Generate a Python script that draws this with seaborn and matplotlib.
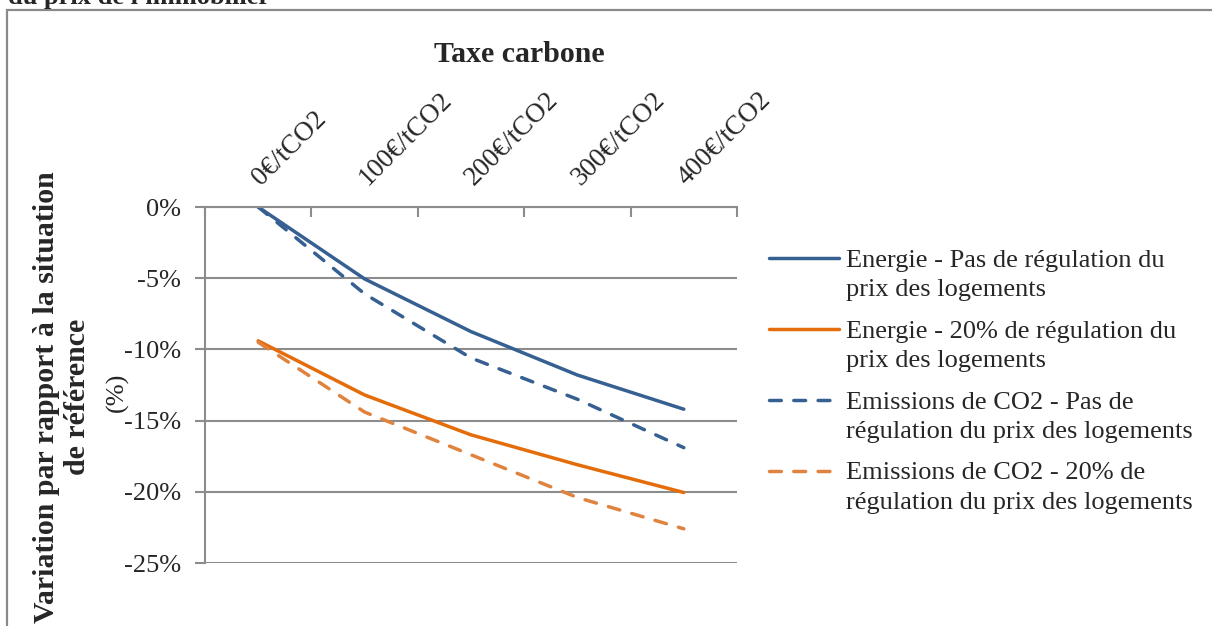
import numpy as np
import matplotlib.pyplot as plt
import seaborn as sns
from matplotlib.legend_handler import HandlerLine2D
from matplotlib.lines import Line2D
from matplotlib.patches import Rectangle
from matplotlib.ticker import FuncFormatter, FixedLocator
from matplotlib.transforms import ScaledTranslation

# data (% change vs. reference)
taxes = ["0€/tCO2", "100€/tCO2", "200€/tCO2", "300€/tCO2", "400€/tCO2"]
energie_sans_regul = [0.0, -5.05, -8.75, -11.8, -14.2]
energie_20_regul = [-9.4, -13.2, -16.0, -18.1, -20.05]
co2_sans_regul = [0.0, -6.1, -10.6, -13.5, -16.9]
co2_20_regul = [-9.5, -14.4, -17.4, -20.4, -22.6]

noms = [
    "Energie - Pas de régulation du\nprix des logements",
    "Energie - 20% de régulation du\nprix des logements",
    "Emissions de CO2 - Pas de\nrégulation du prix des logements",
    "Emissions de CO2 - 20% de\nrégulation du prix des logements",
]

BLEU = "#376092"
ORANGE = "#E46C0A"
ORANGE_CLAIR = "#E0833F"
GRIS = "#8C8C8C"


class TopLineHandler(HandlerLine2D):
    # put the legend line next to the first text line, like Excel does
    def create_artists(self, legend, orig_handle, xdescent, ydescent,
                       width, height, fontsize, trans):
        arts = super().create_artists(legend, orig_handle, xdescent, ydescent,
                                      width, height, fontsize, trans)
        for a in arts:
            a.set_ydata(np.asarray(a.get_ydata()) + 0.62 * fontsize)
        return arts


sns.set_style("white")
plt.rcParams["font.family"] = ["Liberation Serif", "DejaVu Serif"]

fig = plt.figure(figsize=(12.12, 6.26), dpi=100)
ax = fig.add_axes([205 / 1212, 1 - 563 / 626, 532 / 1212, 356 / 626])

x = np.arange(len(taxes))
series = [
    (energie_sans_regul, noms[0], BLEU, "-"),
    (energie_20_regul, noms[1], ORANGE, "-"),
    (co2_sans_regul, noms[2], BLEU, (0, (3.4, 3.6))),
    (co2_20_regul, noms[3], ORANGE_CLAIR, (0, (3.4, 3.6))),
]
for vals, nom, col, ls in series:
    sns.lineplot(x=x, y=vals, ax=ax, color=col, lw=2.5, ls=ls, label=nom,
                 solid_capstyle="round", dash_capstyle="round")

ax.set_xlim(-0.5, len(taxes) - 0.5)
ax.set_ylim(-25, 0)
ax.set_yticks([0, -5, -10, -15, -20, -25])
ax.yaxis.set_major_formatter(FuncFormatter(lambda v, _: f"{v:.0f}%"))
ax.yaxis.grid(True, color=GRIS, lw=1.5)
ax.set_xlabel("")
ax.set_ylabel("")

ax.xaxis.tick_top()
ax.set_xticks(x)
ax.set_xticklabels(taxes, rotation=45, ha="left", va="bottom",
                   rotation_mode="anchor", fontsize=19.5)
ax.xaxis.set_minor_locator(FixedLocator(np.arange(-0.5, len(taxes), 1.0)))
ax.tick_params(axis="x", which="major", length=0, pad=13)
ax.tick_params(axis="x", which="minor", direction="in", length=7,
               width=1.5, color=GRIS, top=True, bottom=False)
ax.tick_params(axis="y", direction="out", length=7, width=1.5, color=GRIS,
               labelsize=19, pad=10.5, left=True)
# nudge the rotated category labels a little to the right
shift = ScaledTranslation(7 / 100, -1 / 100, fig.dpi_scale_trans)
for lbl in ax.get_xticklabels():
    lbl.set_transform(lbl.get_transform() + shift)

for side in ["right", "bottom"]:
    ax.spines[side].set_visible(False)
for side in ["left", "top"]:
    ax.spines[side].set_color(GRIS)
    ax.spines[side].set_linewidth(1.5)

handles, labels = ax.get_legend_handles_labels()
ax.get_legend().remove()
leg = fig.legend(handles, labels, loc="upper left",
                 bbox_to_anchor=(745 / 1212, 1 - 226 / 626),
                 frameon=False, fontsize=19, handlelength=2.65,
                 handletextpad=0.27, labelspacing=0.73,
                 handler_map={Line2D: TopLineHandler()})
for t in leg.get_texts():
    t.set_linespacing(1.45)

fig.text(519 / 1212, 1 - 55 / 626, "Taxe carbone", ha="center", va="center",
         fontsize=21.5, fontweight="bold")
fig.text(62 / 1212, 1 - 397 / 626,
         "Variation par rapport à la situation\nde référence",
         rotation=90, ha="center", va="center", fontsize=21.5,
         fontweight="bold", linespacing=1.17)
fig.text(117 / 1212, 1 - 392 / 626, "(%)", rotation=90, ha="center",
         va="center", fontsize=19)

fig.text(8 / 1212, 1 - 4 / 626, "du prix de l'immobilier", ha="left",
         va="baseline", fontsize=19, fontweight="bold")

fig.patches.append(Rectangle((7 / 1212, -0.2), 1.2, 1.2 - 10 / 626,
                             transform=fig.transFigure, fill=False,
                             edgecolor="#8A8A8A", lw=1.6))

fig.savefig("out.png", dpi=100)
